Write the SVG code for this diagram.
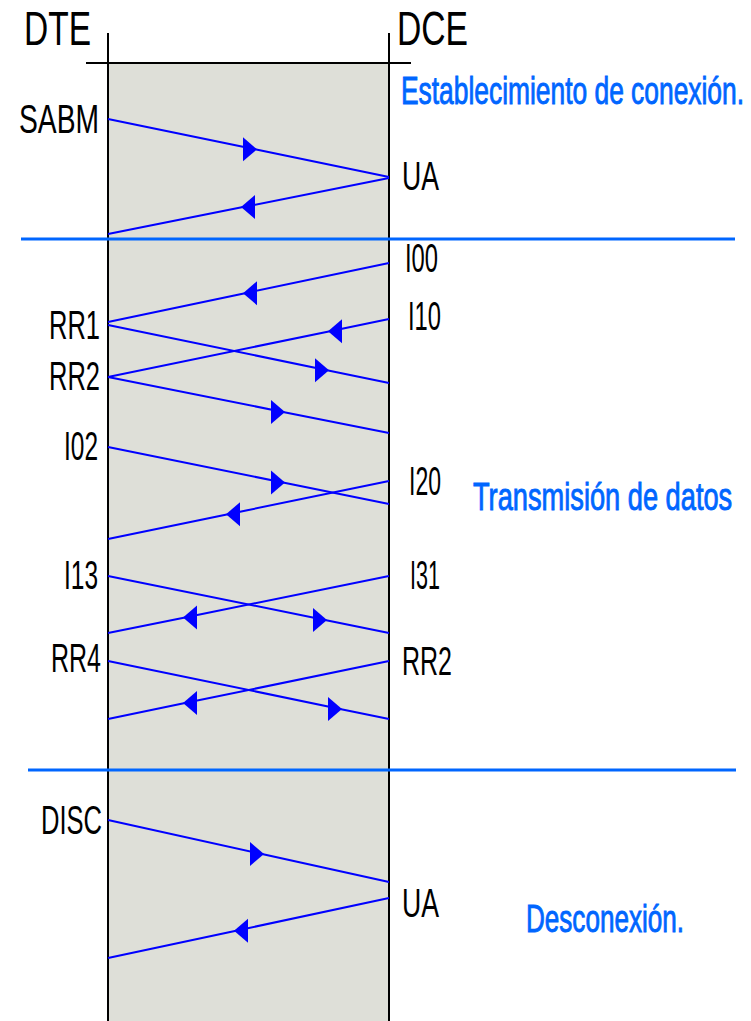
<svg xmlns="http://www.w3.org/2000/svg" width="751" height="1021" viewBox="0 0 751 1021">
<style>
.lbl{font-family:"Liberation Sans",Arial,sans-serif;font-size:40px;fill:#000}
.hdr{font-family:"Liberation Sans",Arial,sans-serif;font-size:49px;fill:#000}
.phase{font-family:"Liberation Sans",Arial,sans-serif;font-size:38px;fill:#0066ff;stroke:#0066ff;stroke-width:0.9}
.msg{fill:none;stroke:#0000ff;stroke-width:2}
.sep{stroke:#0066ff;stroke-width:3}
.axis{stroke:#000;stroke-width:2;fill:none}
</style>
<defs>
<marker id="arrR" markerUnits="userSpaceOnUse" orient="0" markerWidth="40" markerHeight="40" viewBox="-20 -20 40 40" refX="0" refY="0" overflow="visible">
<path d="M2,0 L-12,-12 L-12,12 Z" fill="#0000ff"/>
</marker>
<marker id="arrL" markerUnits="userSpaceOnUse" orient="180" markerWidth="40" markerHeight="40" viewBox="-20 -20 40 40" refX="0" refY="0" overflow="visible">
<path d="M2,0 L-12,-12 L-12,12 Z" fill="#0000ff"/>
</marker>
</defs>
<rect width="751" height="1021" fill="#fff"/>
<g id="timeline">
<rect x="108" y="63" width="281" height="960" fill="#dedfd8"/>
<line class="axis" x1="108" y1="33" x2="108" y2="1021"/>
<line class="axis" x1="389" y1="33" x2="389" y2="1021"/>
<line class="axis" x1="86" y1="63" x2="411" y2="63"/>
</g>
<g id="dte"><text class="hdr" x="24" y="45" textLength="67" lengthAdjust="spacingAndGlyphs">DTE</text></g>
<g id="dce"><text class="hdr" x="397" y="45" textLength="71" lengthAdjust="spacingAndGlyphs">DCE</text></g>
<g id="separators">
<line class="sep" x1="21" y1="239" x2="735" y2="239"/>
<line class="sep" x1="28" y1="770" x2="736" y2="770"/>
</g>
<g id="connectors">
<polyline class="msg" points="108,119 255,149.3 389,177" marker-mid="url(#arrR)"/>
<polyline class="msg" points="389,178 243,207.1 108,234" marker-mid="url(#arrL)"/>
<polyline class="msg" points="389,263 245,293.2 108,322" marker-mid="url(#arrL)"/>
<polyline class="msg" points="389,319 330,331.2 108,377" marker-mid="url(#arrL)"/>
<polyline class="msg" points="108,325 327,370.2 389,383" marker-mid="url(#arrR)"/>
<polyline class="msg" points="108,377 283,411.9 389,433" marker-mid="url(#arrR)"/>
<polyline class="msg" points="108,447 283,482.5 389,504" marker-mid="url(#arrR)"/>
<polyline class="msg" points="389,481 228,514.2 108,539" marker-mid="url(#arrL)"/>
<polyline class="msg" points="108,576 325,620 389,633" marker-mid="url(#arrR)"/>
<polyline class="msg" points="389,576 185,617.4 108,633" marker-mid="url(#arrL)"/>
<polyline class="msg" points="108,661 340,708.9 389,719" marker-mid="url(#arrR)"/>
<polyline class="msg" points="389,661 185,703.1 108,719" marker-mid="url(#arrL)"/>
<polyline class="msg" points="108,820 262,854 389,882" marker-mid="url(#arrR)"/>
<polyline class="msg" points="389,898 236,930.7 108,958" marker-mid="url(#arrL)"/>
</g>
<g id="labels-dte">
<text class="lbl" x="19" y="133" textLength="80" lengthAdjust="spacingAndGlyphs">SABM</text>
<text class="lbl" x="49" y="339" textLength="51" lengthAdjust="spacingAndGlyphs">RR1</text>
<text class="lbl" x="49" y="390" textLength="51" lengthAdjust="spacingAndGlyphs">RR2</text>
<text class="lbl" x="64" y="460" textLength="34" lengthAdjust="spacingAndGlyphs">I02</text>
<text class="lbl" x="64" y="589" textLength="34" lengthAdjust="spacingAndGlyphs">I13</text>
<text class="lbl" x="51" y="672" textLength="50" lengthAdjust="spacingAndGlyphs">RR4</text>
<text class="lbl" x="41" y="834" textLength="61" lengthAdjust="spacingAndGlyphs">DISC</text>
</g>
<g id="labels-dce">
<text class="lbl" x="402" y="190" textLength="37" lengthAdjust="spacingAndGlyphs">UA</text>
<text class="lbl" x="405" y="272" textLength="33" lengthAdjust="spacingAndGlyphs">I00</text>
<text class="lbl" x="408" y="330" textLength="33" lengthAdjust="spacingAndGlyphs">I10</text>
<text class="lbl" x="409" y="495" textLength="32" lengthAdjust="spacingAndGlyphs">I20</text>
<text class="lbl" x="410" y="589" textLength="30" lengthAdjust="spacingAndGlyphs">I31</text>
<text class="lbl" x="402" y="675" textLength="50" lengthAdjust="spacingAndGlyphs">RR2</text>
<text class="lbl" x="402" y="917" textLength="37" lengthAdjust="spacingAndGlyphs">UA</text>
</g>
<g id="phases">
<text class="phase" transform="translate(401,104) scale(0.7,1)" x="0" y="0" textLength="490" lengthAdjust="spacingAndGlyphs">Establecimiento de conexión.</text>
<text class="phase" transform="translate(473,510) scale(0.72,1)" x="0" y="0" textLength="360" lengthAdjust="spacingAndGlyphs">Transmisión de datos</text>
<text class="phase" transform="translate(526,932) scale(0.69,1)" x="0" y="0" textLength="229" lengthAdjust="spacingAndGlyphs">Desconexión.</text>
</g>
</svg>
